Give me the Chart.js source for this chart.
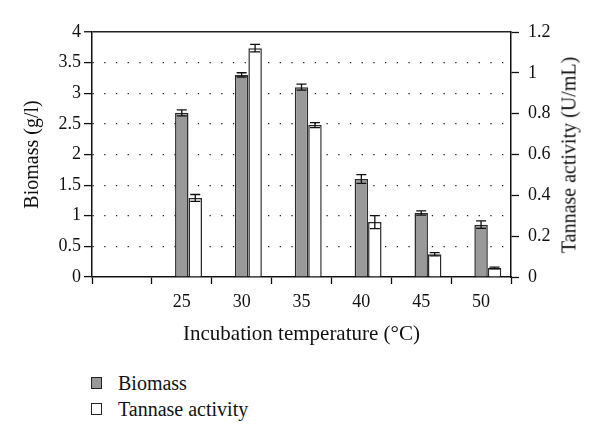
<!DOCTYPE html>
<html lang="en">
<head>
    <meta charset="UTF-8">
    <title>Biomass and tannase activity vs incubation temperature</title>
    <script src="https://cdn.jsdelivr.net/npm/chart.js"></script>
    <style>
        body { margin: 0; background: #fff; font-family: "Liberation Serif", serif; color: #111; }
        #wrap { position: relative; width: 600px; height: 438px; }
        #chartBox { position: absolute; left: 0; top: 0; width: 600px; height: 350px; }
        #legend { position: absolute; left: 91px; top: 370px; font-size: 20px; }
        .item { height: 26px; line-height: 22px; display: flex; align-items: center; }
        .box { width: 9px; height: 10px; border: 1px solid #222; margin-right: 16px; }
        #rightTitle { position: absolute; left: 569px; top: 155px; font-size: 20px; white-space: nowrap;
                      transform: translate(-50%, -50%) rotate(-90deg); }
    </style>
</head>
<body>
<div id="wrap">
    <div id="chartBox"><canvas id="chart" width="600" height="350"></canvas></div>
    <div id="rightTitle">Tannase activity (U/mL)</div>
    <div id="legend">
        <div class="item"><span class="box" style="background:#999"></span>Biomass</div>
        <div class="item"><span class="box" style="background:#fff"></span>Tannase activity</div>
    </div>
</div>
<script>
    const temperatures = ['', '25', '30', '35', '40', '45', '50'];
    const biomass = [null, 2.68, 3.30, 3.10, 1.60, 1.045, 0.855];
    const biomassErr = [null, 0.05, 0.035, 0.05, 0.07, 0.035, 0.06];
    const tannase = [null, 0.387, 1.121, 0.744, 0.269, 0.111, 0.044];
    const tannaseErr = [null, 0.017, 0.018, 0.012, 0.032, 0.008, 0.004];

    const serif = "'Liberation Serif', 'DejaVu Serif', serif";
    const plain = v => String(+Number(v).toFixed(2));

    // draws the +/- error bars on top of each bar
    const errorBars = {
        id: 'errorBars',
        afterDatasetsDraw(chart) {
            const ctx = chart.ctx;
            chart.data.datasets.forEach((ds, di) => {
                if (!ds.errors) return;
                const meta = chart.getDatasetMeta(di);
                const scale = chart.scales[ds.yAxisID];
                meta.data.forEach((bar, i) => {
                    const v = ds.data[i], e = ds.errors[i];
                    if (v == null || e == null) return;
                    const yTop = scale.getPixelForValue(v + e);
                    const yBot = scale.getPixelForValue(v - e);
                    ctx.save();
                    ctx.strokeStyle = '#111';
                    ctx.lineWidth = 1.3;
                    ctx.beginPath();
                    ctx.moveTo(bar.x, yTop); ctx.lineTo(bar.x, yBot);
                    ctx.moveTo(bar.x - 5, yTop); ctx.lineTo(bar.x + 5, yTop);
                    ctx.moveTo(bar.x - 5, yBot); ctx.lineTo(bar.x + 5, yBot);
                    ctx.stroke();
                    ctx.restore();
                });
            });
        }
    };

    new Chart(document.getElementById('chart'), {
        type: 'bar',
        data: {
            labels: temperatures,
            datasets: [
                // empty slot keeps the pair of bars right of the label, as in the original
                { label: '', data: temperatures.map(() => null), yAxisID: 'y' },
                { label: 'Biomass', data: biomass, errors: biomassErr, yAxisID: 'y',
                  backgroundColor: '#999999', borderColor: '#2a2a2a', borderWidth: 1.5 },
                { label: 'Tannase activity', data: tannase, errors: tannaseErr, yAxisID: 'y1',
                  backgroundColor: '#ffffff', borderColor: '#2a2a2a', borderWidth: 1.5 }
            ]
        },
        options: {
            responsive: false,
            animation: false,
            layout: { padding: { top: 32, left: 0, right: 0, bottom: 0 } },
            datasets: { bar: { categoryPercentage: 0.675, barPercentage: 1 } },
            plugins: { legend: { display: false }, tooltip: { enabled: false } },
            scales: {
                x: {
                    grid: { drawOnChartArea: false, tickColor: '#111', tickLength: 7, tickWidth: 1.3 },
                    border: { color: '#111', width: 1.5 },
                    ticks: { color: '#111', font: { family: serif, size: 18 }, padding: 7, maxRotation: 0 },
                    title: { display: true, text: 'Incubation temperature (°C)', color: '#111',
                             font: { family: serif, size: 21 }, padding: { top: 4, bottom: 3 } },
                    afterFit(s) { s.height = 73; }
                },
                y: {
                    position: 'left',
                    min: 0, max: 4,
                    ticks: { stepSize: 0.5, color: '#111', font: { family: serif, size: 18 }, padding: 3,
                             callback: plain },
                    grid: {
                        color: c => (c.tick && (c.tick.value === 0)) ? 'rgba(0,0,0,0)' : '#222',
                        lineWidth: c => (c.tick && c.tick.value === 4) ? 1.5 : 1.2,
                        tickColor: '#111', tickLength: 8, tickWidth: 1.3, tickBorderDash: []
                    },
                    border: {
                        color: '#111', width: 1.5,
                        dash: c => (c.tick && c.tick.value === 4) ? [] : [1.3, 10.4]
                    },
                    title: { display: true, text: 'Biomass (g/l)', color: '#111',
                             font: { family: serif, size: 20 }, padding: { top: 21, bottom: 0 } },
                    afterFit(s) { s.width = 92; }
                },
                y1: {
                    position: 'right',
                    min: 0, max: 1.2,
                    ticks: { stepSize: 0.2, color: '#111', font: { family: serif, size: 18 }, padding: 9,
                             callback: plain },
                    grid: { drawOnChartArea: false, tickColor: '#111', tickLength: 8, tickWidth: 1.3 },
                    border: { color: '#111', width: 1.5 },
                    afterFit(s) { s.width = 89; }
                }
            }
        },
        plugins: [errorBars]
    });
</script>
</body>
</html>
